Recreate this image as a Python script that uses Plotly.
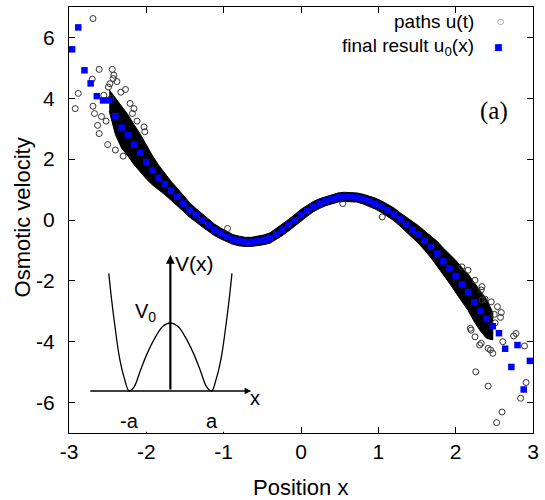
import plotly.graph_objects as go

# ---------------- data ----------------
# final result u0(x) (blue squares)
u0_x = [-2.96, -2.88, -2.80, -2.72, -2.64, -2.56, -2.48, -2.40, -2.32, -2.24,
        -2.16, -2.08, -2.00, -1.92, -1.84, -1.76, -1.68, -1.60, -1.52, -1.44,
        -1.36, -1.28, -1.20, -1.12, -1.04, -0.96, -0.88, -0.80, -0.72, -0.64,
        -0.56, -0.48, -0.40, -0.32, -0.24, -0.16, -0.08, 0.00, 0.08, 0.16,
        0.24, 0.32, 0.40, 0.48, 0.56, 0.64, 0.72, 0.80, 0.88, 0.96,
        1.04, 1.12, 1.20, 1.28, 1.36, 1.44, 1.52, 1.60, 1.68, 1.76,
        1.84, 1.92, 2.00, 2.08, 2.16, 2.24, 2.32, 2.40, 2.48, 2.56,
        2.64, 2.72, 2.80, 2.88, 2.96]
u0_y = [5.61, 6.33, 4.92, 4.49, 4.07, 3.93, 3.93, 3.41, 3.04, 2.79,
        2.48, 2.21, 1.91, 1.63, 1.39, 1.18, 0.96, 0.76, 0.54, 0.33,
        0.16, -0.01, -0.17, -0.32, -0.44, -0.55, -0.64, -0.69, -0.72, -0.72,
        -0.69, -0.65, -0.59, -0.46, -0.32, -0.17, -0.01, 0.16, 0.30, 0.44,
        0.54, 0.62, 0.69, 0.74, 0.76, 0.76, 0.74, 0.69, 0.62, 0.54,
        0.44, 0.32, 0.19, 0.02, -0.14, -0.32, -0.48, -0.68, -0.88, -1.10,
        -1.36, -1.60, -1.84, -2.12, -2.37, -2.70, -2.99, -3.25, -3.49, -3.72,
        -4.23, -4.83, -4.11, -5.57, -4.63]

# dense cloud of paths u(t): vertical half-width of the black band
band_x = [-2.48, -2.40, -2.32, -2.24, -2.16, -2.08, -2.00, -1.92, -1.84, -1.76,
          -1.68, -1.60, -1.52, -1.44, -1.36, -1.28, -1.20, -1.12, -1.04, -0.96,
          -0.88, -0.80, -0.72, -0.64, -0.56, -0.48, -0.40, -0.32, -0.24, -0.16,
          -0.08, 0.00, 0.08, 0.16, 0.24, 0.32, 0.40, 0.48, 0.56, 0.64,
          0.72, 0.80, 0.88, 0.96, 1.04, 1.12, 1.20, 1.28, 1.36, 1.44,
          1.52, 1.60, 1.68, 1.76, 1.84, 1.92, 2.00, 2.08, 2.16, 2.24,
          2.32, 2.40, 2.48]
band_half = [0.35, 0.60, 0.68, 0.68, 0.66, 0.62, 0.56, 0.48, 0.41, 0.35,
             0.31, 0.28, 0.26, 0.24, 0.22, 0.21, 0.20, 0.19, 0.18, 0.17,
             0.16, 0.16, 0.15, 0.15, 0.15, 0.16, 0.17, 0.18, 0.19, 0.19,
             0.19, 0.19, 0.18, 0.17, 0.16, 0.15, 0.15, 0.15, 0.15, 0.15,
             0.15, 0.16, 0.17, 0.18, 0.19, 0.20, 0.21, 0.22, 0.24, 0.26,
             0.29, 0.32, 0.36, 0.40, 0.44, 0.48, 0.52, 0.56, 0.60, 0.64,
             0.66, 0.64, 0.45]

# individually visible path points (open circles)
paths_x = [-2.69, -2.61, -2.44, -2.42, -2.43, -2.70, -2.88, -2.92, -2.69, -2.67,
           -2.63, -2.61, -2.50, -2.27, -2.49, -2.47, -2.46, -2.03, -2.02, -2.18,
           -2.16, -2.21, -2.55, -2.38, -2.33, -2.52, -2.58, -2.30, -2.40, -2.12,
           -0.95, 0.54, 1.05,
           2.26, 2.42, 2.60, 2.53, 2.84, 2.91, 2.89, 2.78, 2.75, 2.59,
           2.58, 2.51, 2.19, 2.25, 2.33, 2.42, 2.48, 2.45, 2.61, 2.34,
           2.46, 2.54, 2.08, 2.16, 2.25, 2.33, 2.34, 2.20, 2.31, 2.38, 2.50]
paths_y = [6.62, 4.95, 4.95, 4.76, 4.65, 4.63, 4.16, 3.66, 3.74, 3.50,
           3.11, 2.84, 2.48, 4.29, 4.37, 4.48, 3.99, 3.06, 2.90, 3.50,
           3.66, 3.83, 4.10, 4.55, 4.20, 3.25, 3.40, 2.10, 2.30, 3.25,
           -0.28, 0.54, 0.10,
           -4.99, -5.46, -6.31, -6.66, -5.86, -5.34, -4.14, -3.73, -3.81, -3.04,
           -3.20, -3.38, -3.56, -3.84, -4.05, -4.22, -4.38, -4.27, -4.00, -2.19,
           -2.69, -2.85, -1.54, -1.65, -1.98, -2.30, -2.63, -3.62, -4.11, -2.60, -3.10]

# inset: schematic double-well potential V(x)
inset_x = [-1.51, -1.45, -1.37, -1.25, -1.13, -1.01, -0.89, -0.73, -0.57, -0.36, -0.19, 0.0,
           0.19, 0.36, 0.57, 0.73, 0.89, 1.01, 1.13, 1.25, 1.37, 1.45, 1.51]
inset_v = [1.73, 1.39, 1.00, 0.50, 0.19, 0.00, 0.06, 0.31, 0.55, 0.80, 0.95, 1.00,
           0.95, 0.80, 0.55, 0.31, 0.06, 0.00, 0.19, 0.50, 1.00, 1.39, 1.73]

x_ticks = [-3, -2, -1, 0, 1, 2, 3]
x_tick_labels = ["-3", "-2", "-1", "0", "1", "2", "3"]
y_ticks = [-6, -4, -2, 0, 2, 4, 6]
y_tick_labels = ["-6", "-4", "-2", "0", "2", "4", "6"]

# ---------------- figure ----------------
FONT = "Liberation Sans, Arial, Helvetica, sans-serif"
u0_lookup = dict(zip(u0_x, u0_y))
upper = [u0_lookup[x] + h for x, h in zip(band_x, band_half)]
lower = [u0_lookup[x] - h for x, h in zip(band_x, band_half)]

fig = go.Figure()
fig.add_trace(go.Scatter(
    x=band_x + band_x[::-1], y=upper + lower[::-1],
    mode="lines", fill="toself", fillcolor="black",
    line=dict(color="black", width=1), hoverinfo="skip", showlegend=False))
fig.add_trace(go.Scatter(
    x=paths_x, y=paths_y, mode="markers", showlegend=False,
    marker=dict(symbol="circle-open", size=6, color="#333333", line=dict(width=1))))
fig.add_trace(go.Scatter(
    x=u0_x, y=u0_y, mode="markers", showlegend=False,
    marker=dict(symbol="square", size=6.5, color="#0000ff", line=dict(width=0))))

# inset curve
fig.add_trace(go.Scatter(
    x=inset_x, y=inset_v, xaxis="x2", yaxis="y2", mode="lines",
    line=dict(color="black", width=1.3, shape="spline"), showlegend=False, hoverinfo="skip"))

axis_common = dict(showgrid=False, zeroline=False, showline=True, linecolor="black",
                   linewidth=1.3, mirror="ticks", ticks="inside", ticklen=6,
                   tickwidth=1, tickcolor="black",
                   tickfont=dict(family=FONT, size=21, color="black"))

fig.update_layout(
    width=545, height=500,
    margin=dict(l=69, r=6, t=7, b=67),
    paper_bgcolor="white", plot_bgcolor="white",
    showlegend=False,
    xaxis=dict(range=[-3, 3], tickvals=x_ticks, ticktext=x_tick_labels, **axis_common),
    yaxis=dict(range=[-7, 7], tickvals=y_ticks, ticktext=y_tick_labels,
               ticklabelstandoff=9, **axis_common),
    xaxis2=dict(domain=[0.034, 0.417], range=[-2.099, 2.259], anchor="y2",
                visible=False, fixedrange=True),
    yaxis2=dict(domain=[0.0028, 0.4296], range=[-0.6, 2.074], anchor="x2",
                visible=False, fixedrange=True),
)

ann = []
# axis titles
ann.append(dict(text="Position x", x=0.498, y=-0.127, xref="paper", yref="paper",
                showarrow=False, font=dict(family=FONT, size=22, color="black"),
                xanchor="center", yanchor="middle"))
ann.append(dict(text="Osmotic velocity", x=-0.1, y=0.505, xref="paper", yref="paper",
                showarrow=False, textangle=-90,
                font=dict(family=FONT, size=22, color="black"),
                xanchor="center", yanchor="middle"))
# legend (text right aligned, key symbol on the right)
ann.append(dict(text="paths u(t)", x=0.878, y=0.965, xref="paper", yref="paper",
                showarrow=False, xanchor="right", yanchor="middle",
                font=dict(family=FONT, size=19, color="black")))
ann.append(dict(text="○", x=0.93, y=0.965, xref="paper", yref="paper",
                showarrow=False, xanchor="center", yanchor="middle",
                font=dict(family="DejaVu Sans", size=8, color="#555555")))
ann.append(dict(text="final result u<sub>0</sub>(x)", x=0.878, y=0.907, xref="paper",
                yref="paper", showarrow=False, xanchor="right", yanchor="middle",
                font=dict(family=FONT, size=19, color="black")))
ann.append(dict(text="■", x=0.925, y=0.907, xref="paper", yref="paper",
                showarrow=False, xanchor="center", yanchor="middle",
                font=dict(family="DejaVu Sans", size=9, color="#0000ff")))
# panel label
ann.append(dict(text="(a)", x=0.917, y=0.756, xref="paper", yref="paper",
                showarrow=False, xanchor="center", yanchor="middle",
                font=dict(family="Liberation Serif, Times New Roman, serif", size=25,
                          color="black")))
# inset axes with arrows
ann.append(dict(x=1.98, y=0, ax=-2.0, ay=0, xref="x2", yref="y2", axref="x2", ayref="y2",
                text="", showarrow=True, arrowhead=2, arrowsize=1, arrowwidth=1.3,
                arrowcolor="black"))
ann.append(dict(x=0, y=2.0, ax=0, ay=0, xref="x2", yref="y2", axref="x2", ayref="y2",
                text="", showarrow=True, arrowhead=2, arrowsize=0.8, arrowwidth=2.2,
                arrowcolor="black"))
ann.append(dict(text="V(x)", x=0.07, y=1.88, xref="x2", yref="y2", showarrow=False,
                xanchor="left", yanchor="middle",
                font=dict(family=FONT, size=21, color="black")))
ann.append(dict(text="V<sub>0</sub>", x=-0.62, y=1.15, xref="x2", yref="y2",
                showarrow=False, xanchor="center", yanchor="middle",
                font=dict(family=FONT, size=20, color="black")))
ann.append(dict(text="-a", x=-1.0, y=-0.44, xref="x2", yref="y2", showarrow=False,
                xanchor="center", yanchor="middle",
                font=dict(family=FONT, size=20, color="black")))
ann.append(dict(text="a", x=1.01, y=-0.44, xref="x2", yref="y2", showarrow=False,
                xanchor="center", yanchor="middle",
                font=dict(family=FONT, size=20, color="black")))
ann.append(dict(text="x", x=2.08, y=-0.11, xref="x2", yref="y2", showarrow=False,
                xanchor="center", yanchor="middle",
                font=dict(family=FONT, size=20, color="black")))
fig.update_layout(annotations=ann)

# remove the browser's default page margin so the figure sits at the window corner
fig.write_html("out.html", config={"displayModeBar": False},
               post_script="document.body.style.margin='0px';document.body.style.padding='0px';")
